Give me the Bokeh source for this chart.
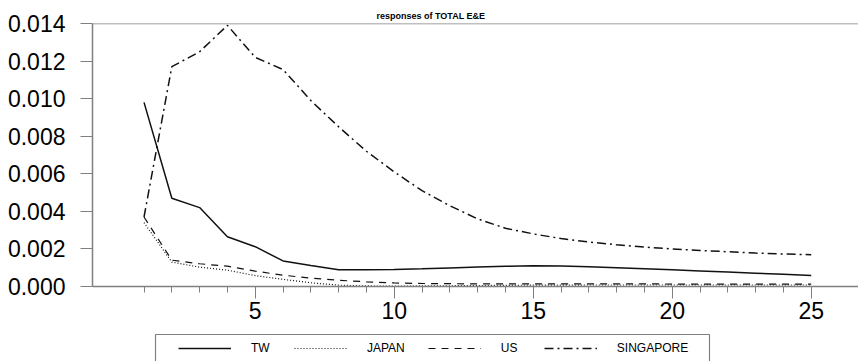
from bokeh.plotting import figure
from bokeh.layouts import column
from bokeh.models import (FixedTicker, Span, Legend, LegendItem, Range1d, PrintfTickFormatter,
                          BoxAnnotation)
from bokeh.embed import file_html
from bokeh.resources import INLINE

# ---- data ----
steps = list(range(1, 26))
tw = [0.0098, 0.0047, 0.0042, 0.00265, 0.00212, 0.00136, 0.00112, 0.00089, 0.00089, 0.00090,
      0.00094, 0.00099, 0.00104, 0.00108, 0.00110, 0.00109, 0.00105, 0.00100, 0.00095, 0.00089,
      0.00083, 0.00077, 0.00071, 0.00065, 0.00059]
japan = [0.0034, 0.0013, 0.00103, 0.00087, 0.00058, 0.00038, 0.00020, 0.00007, 0.00003, 0.00002,
         0.00003, 0.00004, 0.00005, 0.00006, 0.00007, 0.00007, 0.00008, 0.00008, 0.00008, 0.00008,
         0.00008, 0.00008, 0.00008, 0.00008, 0.00008]
us = [0.0037, 0.0014, 0.00121, 0.00108, 0.00082, 0.00060, 0.00045, 0.00033, 0.00025, 0.00019,
      0.00016, 0.00015, 0.00014, 0.00014, 0.00014, 0.00014, 0.00014, 0.00014, 0.00014, 0.00013,
      0.00013, 0.00013, 0.00013, 0.00013, 0.00013]
singapore = [0.0037, 0.0117, 0.0125, 0.0139, 0.0122, 0.01155, 0.0099, 0.0085, 0.0072, 0.0061,
             0.0051, 0.0043, 0.0036, 0.0031, 0.0028, 0.00255, 0.00237, 0.00222, 0.0021, 0.0020,
             0.00192, 0.00185, 0.00178, 0.00173, 0.00169]
series_names = ["TW", "JAPAN", "US", "SINGAPORE"]
y_ticks = [0.0, 0.002, 0.004, 0.006, 0.008, 0.010, 0.012, 0.014]
x_major = [5, 10, 15, 20, 25]
title_text = "responses of TOTAL E&E"

FONT = "Liberation Sans"
AXIS_GRAY = "#808080"
INK = "#111111"

styles = [dict(line_width=1.5),
          dict(line_width=1.2, line_dash="1 2"),
          dict(line_width=1.2, line_dash="7 6"),
          dict(line_width=1.5, line_dash="9 4 2 4")]
all_series = [tw, japan, us, singapore]

p = figure(width=858, height=330, output_backend="svg", toolbar_location=None,
           x_range=Range1d(-0.853, 26.70), y_range=Range1d(0, 0.014),
           min_border_left=92, min_border_right=0, min_border_top=23, min_border_bottom=44,
           title=title_text)
p.outline_line_color = None
p.xgrid.visible = False
p.ygrid.visible = False
p.background_fill_color = "white"
p.border_fill_color = "white"

p.title.text_font = FONT
p.title.text_font_size = "9px"
p.title.text_font_style = "bold"
p.title.text_color = "black"
p.title.align = "left"
p.title.offset = 284
p.title.standoff = 6

# x axis
xa = p.xaxis[0]
xa.ticker = FixedTicker(ticks=x_major, minor_ticks=steps)
xa.axis_line_color = AXIS_GRAY
xa.axis_line_width = 1.5
xa.major_tick_line_color = AXIS_GRAY
xa.minor_tick_line_color = AXIS_GRAY
xa.major_tick_in = 0
xa.major_tick_out = 12
xa.minor_tick_in = 0
xa.minor_tick_out = 6
xa.major_label_standoff = 3
xa.major_label_text_font = FONT
xa.major_label_text_font_size = "23px"
xa.major_label_text_color = "black"

# y axis
ya = p.yaxis[0]
ya.ticker = FixedTicker(ticks=y_ticks, minor_ticks=[])
ya.formatter = PrintfTickFormatter(format="%.3f")
ya.axis_line_color = AXIS_GRAY
ya.axis_line_width = 1.5
ya.major_tick_line_color = AXIS_GRAY
ya.major_tick_in = 0
ya.major_tick_out = 12
ya.minor_tick_line_color = None
ya.major_label_standoff = 15
ya.major_label_text_font = FONT
ya.major_label_text_font_size = "23px"
ya.major_label_text_color = "black"

# top border line
p.add_layout(Span(location=0.014, dimension="width", line_color=AXIS_GRAY, line_width=1.5))

for vals, st in zip(all_series, styles):
    p.line(steps, vals, line_color=INK, **st)

# ---- legend strip below the chart ----
# (its y range lies above all values, so its line renderers only serve as legend keys)
lg = figure(width=858, height=31, output_backend="svg", toolbar_location=None,
            x_range=Range1d(-0.853, 26.70), y_range=Range1d(1, 2),
            x_axis_location=None, y_axis_location=None,
            min_border_left=92, min_border_right=0, min_border_top=0, min_border_bottom=0)
lg.outline_line_color = None
lg.xgrid.visible = False
lg.ygrid.visible = False
lg.border_fill_color = "white"
lg.background_fill_color = "white"

# legend frame (bottom edge falls below the visible window, as in the original)
lg.add_layout(BoxAnnotation(left=155, right=709, top=4, bottom=80,
                            left_units="canvas", right_units="canvas",
                            top_units="canvas", bottom_units="canvas",
                            fill_alpha=0, line_color=AXIS_GRAY, line_width=1.2, line_alpha=1))

items = []
for name, vals, st in zip(series_names, all_series, styles):
    r = lg.line(steps, vals, line_color=INK, **st)
    items.append(LegendItem(label=name, renderers=[r]))

legend = Legend(items=items, orientation="horizontal", location=(86, 6))
legend.margin = 0
legend.padding = 0
legend.spacing = 23
legend.glyph_width = 53
legend.glyph_height = 4
legend.label_height = 4
legend.label_standoff = 20
legend.label_text_font = FONT
legend.label_text_font_size = "12px"
legend.label_text_color = "black"
legend.label_text_baseline = "middle"
legend.border_line_color = None
legend.background_fill_alpha = 0
lg.add_layout(legend, "center")

layout = column(p, lg, spacing=0)
open("out.html", "w").write(file_html(layout, INLINE))
